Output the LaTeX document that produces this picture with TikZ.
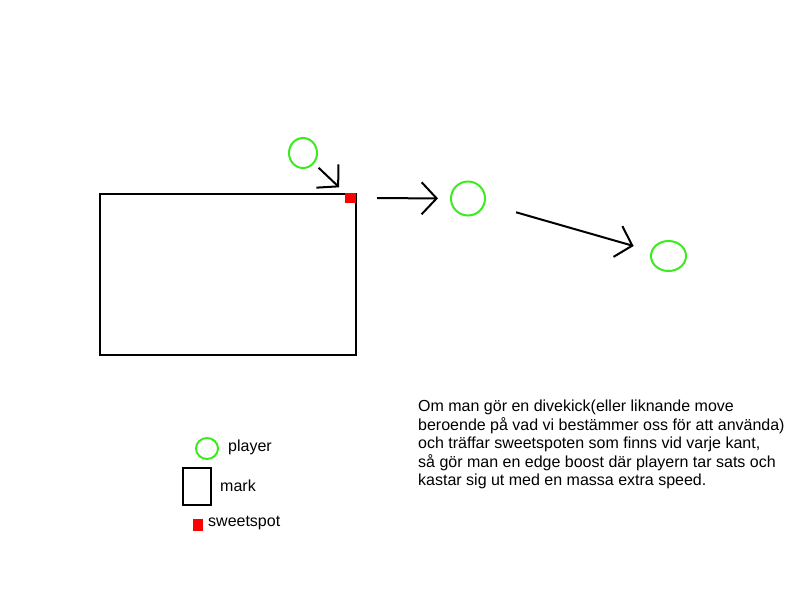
\documentclass[tikz,border=0pt]{standalone}
\usepackage{fontspec}
\setmainfont{Liberation Sans}
\usetikzlibrary{arrows.meta,%
                shapes.geometric}
\definecolor{playergreen}{RGB}{60,235,30}
\definecolor{spotred}{RGB}{255,0,0}

\begin{document}
\begin{tikzpicture}[x=1pt,y=-1pt,
	player/.style={ellipse,draw=playergreen,line width=2pt,inner sep=0pt},
	spot/.style={rectangle,fill=spotred,inner sep=0pt},
	kick/.style={line width=2pt,-{Straight Barb[length=15pt,width=32pt,line width=2pt]}},
	txt/.style={font=\fontsize{16}{18.5}\selectfont,inner sep=0pt}]
	\useasboundingbox (0,0) rectangle (800,600);

	% mark with sweetspot
	\draw[line width=2pt] (100,194) rectangle (356,355);
	\node[spot,minimum width=11pt,minimum height=10pt] (s1) at (350.5,198) {};

	% players
	\node[player,minimum width=28pt,minimum height=30pt] (p1) at (303,153) {};
	\node[player,minimum width=34pt,minimum height=34pt] (p2) at (468,198.5) {};
	\node[player,minimum width=35pt,minimum height=30pt] (p3) at (668.5,256) {};

	\begin{scope}[every path/.style={kick}]
		\draw[shorten <=6pt,shorten >=8pt] (p1) -- (s1);
		\draw[shorten <=21pt,shorten >=12pt] (s1) -- (p2);
		\draw[shorten <=32pt,shorten >=18pt] (p2) -- (p3);
	\end{scope}

	% legend
	\node[player,minimum width=22pt,minimum height=21pt] (lp) at (207,448.5) {};
	\node[txt,anchor=west] (lpt) at (228,447) {player};
	\draw[line width=2pt] (183,468) rectangle (211,505);
	\coordinate (lm) at (211,486.5);
	\node[txt,anchor=west] (lmt) at (220,486) {mark};
	\node[spot,minimum width=10pt,minimum height=12pt] (ls) at (198,525) {};
	\node[txt,anchor=west] (lst) at (208,523) {sweetspot};

	% description
	\node[txt,anchor=north west,align=left] (info) at (418,400) {Om man gör en divekick(eller liknande move\\
		beroende på vad vi bestämmer oss för att använda)\\
		och träffar sweetspoten som finns vid varje kant,\\
		så gör man en edge boost där playern tar sats och\\
		kastar sig ut med en massa extra speed.};
\end{tikzpicture}
\end{document}
